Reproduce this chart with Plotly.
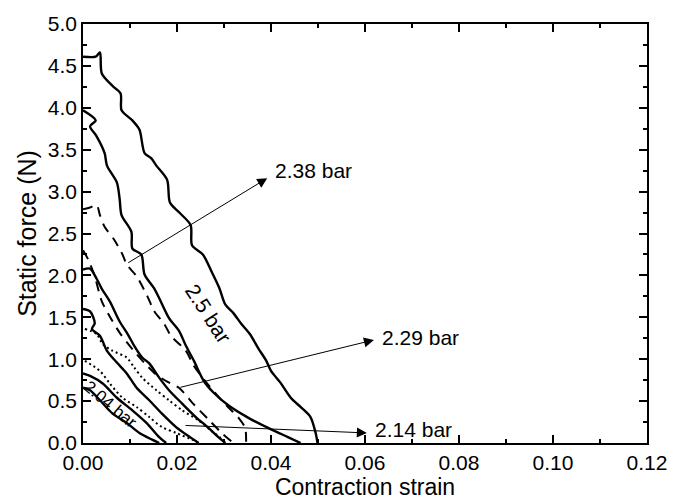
import plotly.graph_objects as go

# ---- data (strain, static force N) ----
a_x = [0, 0.0027, 0.0036, 0.0040, 0.0063, 0.0080, 0.0082, 0.0105, 0.0120, 0.0131, 0.0145, 0.0156, 0.0179, 0.0185,
       0.0205, 0.0229, 0.0232, 0.0255, 0.0274, 0.0290, 0.0303, 0.0320, 0.0337, 0.0355, 0.0373, 0.0390, 0.0400,
       0.0420, 0.0442, 0.0465, 0.0484, 0.0495, 0.0499]
a_y = [4.61, 4.61, 4.66, 4.41, 4.26, 4.17, 3.97, 3.85, 3.74, 3.46, 3.40, 3.31, 3.14, 2.87,
       2.75, 2.60, 2.36, 2.25, 2.04, 1.85, 1.65, 1.55, 1.42, 1.30, 1.13, 0.98, 0.86,
       0.72, 0.54, 0.42, 0.31, 0.12, 0.0]

b_x = [0, 0.0027, 0.0015, 0.0029, 0.0046, 0.0051, 0.0072, 0.0078, 0.0082, 0.0103, 0.0105, 0.0124, 0.0131, 0.0152,
       0.0162, 0.0183, 0.0204, 0.0219, 0.0236, 0.0257, 0.0278, 0.0309, 0.0352, 0.0394, 0.0436, 0.0463]
b_y = [3.97, 3.85, 3.78, 3.66, 3.46, 3.31, 3.11, 2.91, 2.72, 2.52, 2.32, 2.25, 2.01, 1.84,
       1.73, 1.49, 1.34, 1.16, 0.98, 0.74, 0.60, 0.45, 0.30, 0.18, 0.07, 0.0]

d1_x = [0, 0.0015, 0.0029, 0.0036, 0.0046, 0.0067, 0.0084, 0.0093, 0.0114, 0.0137, 0.0152, 0.0173, 0.0187,
        0.0219, 0.0236, 0.0267, 0.0305, 0.0331, 0.0345, 0.0347]
d1_y = [2.79, 2.81, 2.84, 2.72, 2.58, 2.42, 2.25, 2.13, 1.99, 1.75, 1.57, 1.42, 1.28,
        1.10, 0.92, 0.69, 0.45, 0.30, 0.18, 0.0]

d2_x = [0, 0.0011, 0.0025, 0.0040, 0.0060, 0.0080, 0.0105, 0.0130, 0.0155, 0.0180, 0.0204, 0.0236, 0.0267, 0.0295, 0.0320]
d2_y = [2.30, 2.19, 1.99, 1.69, 1.48, 1.30, 1.12, 0.96, 0.82, 0.73, 0.66, 0.46, 0.28, 0.12, 0.0]

c_x = [0, 0.0015, 0.0029, 0.0040, 0.0057, 0.0078, 0.0095, 0.0109, 0.0126, 0.0141, 0.0162, 0.0183, 0.0211, 0.0240,
       0.0267, 0.0288, 0.0303]
c_y = [2.07, 2.08, 1.96, 1.84, 1.69, 1.45, 1.30, 1.16, 1.02, 0.95, 0.78, 0.63, 0.47, 0.31,
       0.18, 0.07, 0.0]

e_x = [0, 0.0015, 0.0025, 0.0019, 0.0036, 0.0051, 0.0072, 0.0093, 0.0114, 0.0141, 0.0168, 0.0198, 0.0225, 0.0246]
e_y = [1.60, 1.57, 1.43, 1.36, 1.28, 1.10, 0.96, 0.83, 0.66, 0.51, 0.35, 0.19, 0.08, 0.0]

f_x = [0.0004, 0.0029, 0.0042, 0.0063, 0.0093, 0.0109, 0.0126, 0.0156, 0.0183, 0.0211, 0.0246, 0.0272, 0.0293, 0.0305]
f_y = [1.36, 1.30, 1.18, 1.10, 1.02, 0.90, 0.78, 0.63, 0.51, 0.39, 0.27, 0.15, 0.06, 0.0]

g_x = [0.0004, 0.0036, 0.0057, 0.0084, 0.0114, 0.0141, 0.0168, 0.0198, 0.0232, 0.0246]
g_y = [0.98, 0.86, 0.71, 0.54, 0.43, 0.31, 0.19, 0.12, 0.04, 0.0]

h_x = [0, 0.0015, 0.0042, 0.0072, 0.0105, 0.0135, 0.0162, 0.0177]
h_y = [0.83, 0.80, 0.71, 0.54, 0.39, 0.24, 0.07, 0.0]

i_x = [0, 0.0015, 0.0036, 0.0063, 0.0093, 0.0120, 0.0147, 0.0162]
i_y = [0.66, 0.63, 0.51, 0.35, 0.24, 0.12, 0.04, 0.0]

x_ticks = [0.00, 0.02, 0.04, 0.06, 0.08, 0.10, 0.12]
y_ticks = [0.0, 0.5, 1.0, 1.5, 2.0, 2.5, 3.0, 3.5, 4.0, 4.5, 5.0]

arrow_labels = ["2.38 bar", "2.29 bar", "2.14 bar"]
arrow_tail_x = [0.0093, 0.0204, 0.0215]
arrow_tail_y = [2.14, 0.66, 0.21]
arrow_tip_x = [0.0392, 0.0619, 0.0604]
arrow_tip_y = [3.16, 1.23, 0.12]

# ---- style ----
FONT = "Liberation Sans, Arial, sans-serif"
label_yshift = [8, 2, 3]

curves = [
    (a_x, a_y, "solid", 2.4),
    (b_x, b_y, "solid", 2.4),
    (d1_x, d1_y, "10px,7px", 2.0),
    (d2_x, d2_y, "10px,7px", 2.0),
    (c_x, c_y, "solid", 2.4),
    (e_x, e_y, "solid", 2.4),
    (f_x, f_y, "2px,3px", 2.0),
    (g_x, g_y, "2px,3px", 2.0),
    (h_x, h_y, "solid", 2.4),
    (i_x, i_y, "solid", 2.4),
]

fig = go.Figure()
for xs, ys, dash, w in curves:
    fig.add_trace(go.Scatter(x=xs, y=ys, mode="lines",
                             line=dict(color="black", width=w, dash=dash, shape="spline", smoothing=0.8),
                             showlegend=False, hoverinfo="skip"))

for lab, tx, ty, hx, hy, ys in zip(arrow_labels, arrow_tail_x, arrow_tail_y, arrow_tip_x, arrow_tip_y, label_yshift):
    fig.add_annotation(x=hx, y=hy, ax=tx, ay=ty, xref="x", yref="y", axref="x", ayref="y",
                       text="", showarrow=True, arrowhead=2, arrowsize=2, arrowwidth=1, arrowcolor="black")
    fig.add_annotation(x=hx, y=hy, xref="x", yref="y", text=lab, showarrow=False,
                       xanchor="left", yanchor="middle", xshift=6, yshift=ys,
                       font=dict(family=FONT, size=21, color="black"))

fig.add_annotation(x=0.0267, y=1.55, text="2.5 bar", showarrow=False, textangle=57,
                   font=dict(family=FONT, size=21, color="black"))
fig.add_annotation(x=0.0058, y=0.46, text="2.04 bar", showarrow=False, textangle=40,
                   font=dict(family=FONT, size=17, color="black"))

axis_common = dict(showline=True, linecolor="black", linewidth=1.5, mirror="allticks",
                   ticks="inside", ticklen=8, tickwidth=1.5, tickcolor="black",
                   showgrid=False, zeroline=False,
                   tickfont=dict(family=FONT, size=21, color="black"))

fig.update_xaxes(range=[0, 0.12], tickvals=x_ticks, ticktext=[f"{v:.2f}" for v in x_ticks],
                 minor=dict(dtick=0.01, ticks="inside", ticklen=4, tickwidth=1.5, tickcolor="black"),
                 title=dict(text="Contraction strain", font=dict(family=FONT, size=23, color="black"), standoff=0),
                 **axis_common)
fig.update_yaxes(range=[0, 5], tickvals=y_ticks, ticktext=[f"{v:.1f}" for v in y_ticks],
                 minor=dict(dtick=0.25, ticks="inside", ticklen=4, tickwidth=1.5, tickcolor="black"),
                 title=dict(text="Static force (N)", font=dict(family=FONT, size=25, color="black"), standoff=4),
                 **axis_common)

fig.update_layout(width=679, height=502, margin=dict(l=83, r=26, t=20, b=59),
                  paper_bgcolor="white", plot_bgcolor="white")

fig.write_html("out.html")
